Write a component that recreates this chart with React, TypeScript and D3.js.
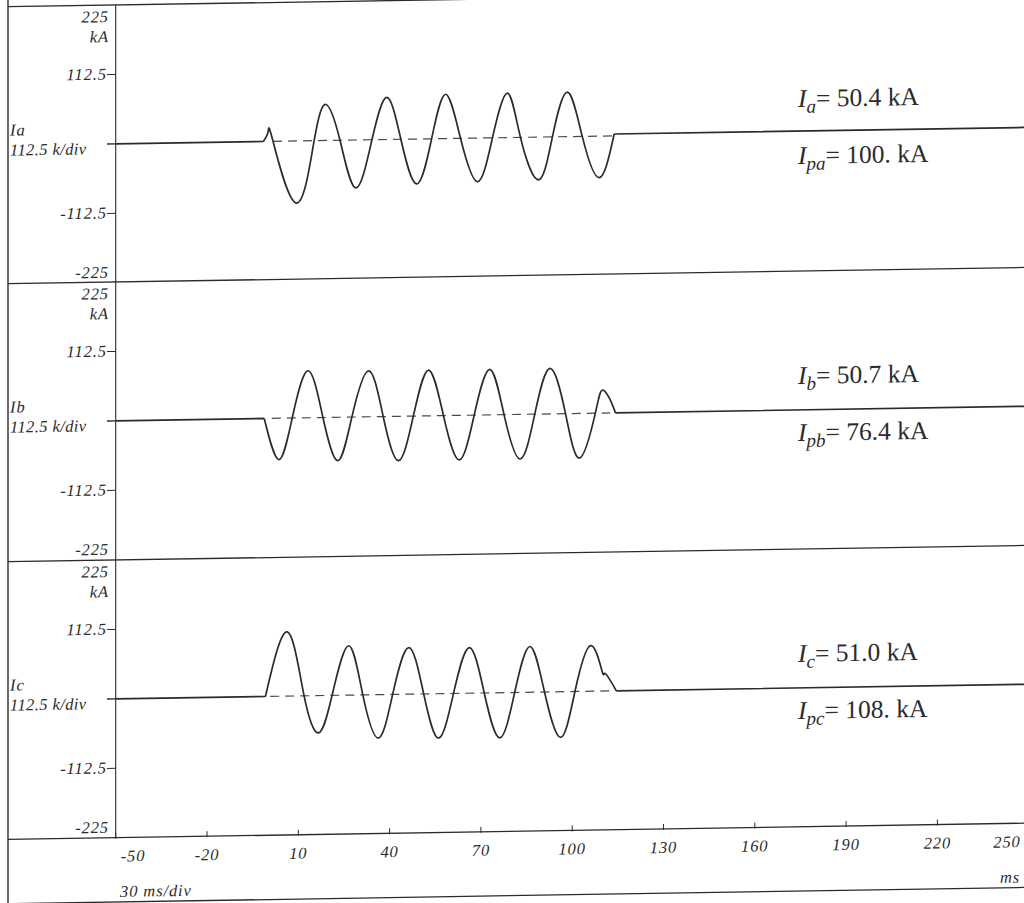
import * as d3 from "d3";

// time axis (ms)
const timeTicks = [-50, -20, 10, 40, 70, 100, 130, 160, 190, 220, 250];
// current axis (kA)
const currentTicks = [112.5, -112.5];
const currentTickLabels = ["112.5", "-112.5"];

const channelNames = ["Ia", "Ib", "Ic"];
const subscripts = ["a", "b", "c"];
const rmsValues = ["50.4", "50.7", "51.0"];
const peakValues = ["100.", "76.4", "108."];

// phase a (ms / kA)
const timeA = [-50, -1.5, 0.1, 1.7, 9.3, 15.2, 19.1, 23.7, 28.9, 34.2, 39.1, 43.7, 48.9, 53.8, 58.4, 63.3, 68.9, 73.8, 78.7, 83.0, 88.9, 93.5, 98.4, 103.3, 108.9, 113.8, 250];
const currentA = [0, 0, 15.8, 0, -100.6, 0, 58.4, 0, -77.7, 0, 68.4, 0, -72.8, 0, 71.8, 0, -70.8, 0, 71.9, 0, -69.2, 0, 72.1, 0, -67.4, 3, 3];

// phase b
const timeB = [-50, -1.2, 3.6, 8.0, 13.2, 18.1, 23.0, 27.6, 33.1, 37.9, 42.9, 47.8, 52.8, 57.7, 62.9, 67.8, 72.9, 77.6, 82.9, 87.7, 92.7, 97.8, 102.5, 107.6, 109.8, 112.3, 114.2, 250];
const currentB = [0, 0, -67, 0, 76.2, 0, -70.3, 0, 74.5, 0, -71.8, 0, 74.2, 0, -72.3, 0, 73.7, 0, -72.3, 0, 73.7, 0, -72.3, 0, 37, 23.3, 0, 0];

// phase c
const timeC = [-50, -0.8, 6.4, 11.9, 16.7, 21.1, 26.5, 31.2, 36.3, 41.0, 46.3, 51.2, 56.1, 61.0, 66.2, 71.1, 76.2, 81.1, 86.1, 90.9, 96.2, 100.9, 106.0, 109.8, 110.9, 114.5, 250];
const currentC = [0, 0, 104, 0, -60.4, 0, 80, 0, -70.5, 0, 75.5, 0, -72.1, 0, 73.9, 0, -73.3, 0, 74.1, 0, -74, 0, 74, 32.4, 28.2, 0, 0];

// dashed zero reference during the fault (ms)
const dashStart = [1.7, 1.3, 0.8];
const dashEnd = [113.8, 112.5, 113.0];

const series = [
  { t: timeA, i: currentA },
  { t: timeB, i: currentB },
  { t: timeC, i: currentC },
];

const W = 1024;
const H = 903;
const AXIS_X = 115.7;
const FRAME_X = 8;
const PANEL_TOP = [5, 282, 560];
const PANEL_H = 277.7;
const SKEW = -0.016; // the scanned page is slightly skewed

const serif = "'Liberation Serif', 'Times New Roman', serif";
const ink = "#2b2b2b";

const App = () => {
  const x = d3.scaleLinear().domain([-50, 250]).range([AXIS_X, AXIS_X + 913]);
  const bottom = PANEL_TOP[2] + PANEL_H;

  return (
    <svg
      width={W}
      height={H}
      viewBox={`0 0 ${W} ${H}`}
      style={{ position: "absolute", left: 0, top: 0, background: "#fff" }}
    >
      <rect width={W} height={H} fill="#fff" />
      <g transform={`matrix(1, ${SKEW}, 0, 1, 0, ${-SKEW * AXIS_X})`}>
        {/* frame */}
        <line x1={FRAME_X} x2={FRAME_X} y1={-20} y2={H + 20} stroke={ink} strokeWidth={1.4} />
        <line x1={AXIS_X} x2={AXIS_X} y1={PANEL_TOP[0]} y2={bottom} stroke={ink} strokeWidth={1.1} />
        {[...PANEL_TOP, bottom].map((y, k) => (
          <line key={k} x1={FRAME_X} x2={W + 40} y1={y} y2={y} stroke={ink} strokeWidth={1.3} />
        ))}
        <line x1={FRAME_X} x2={W + 40} y1={902} y2={902} stroke={ink} strokeWidth={1.3} />

        {series.map((s, k) => {
          const top = PANEL_TOP[k];
          const y = d3.scaleLinear().domain([-225, 225]).range([top + PANEL_H, top]);
          const pts = s.t.map((t, j) => [t, s.i[j]] as [number, number]);
          const flat = d3
            .line<[number, number]>()
            .x((d) => x(d[0]))
            .y((d) => y(d[1]));
          const wave = d3
            .line<[number, number]>()
            .x((d) => x(d[0]))
            .y((d) => y(d[1]))
            .curve(d3.curveNatural);
          // flat before / after the fault, smooth spline through the oscillation
          const d =
            (flat(pts.slice(0, 2)) ?? "") +
            (wave(pts.slice(1, -1)) ?? "") +
            (flat(pts.slice(-2)) ?? "");
          return (
            <g key={k}>
              {/* left scale */}
              <g fontFamily={serif} fontStyle="italic" fontSize={16.5} fill={ink} letterSpacing={0.9}>
                <text x={109} y={top + 17} textAnchor="end">225</text>
                <text x={109} y={top + 37} textAnchor="end">kA</text>
                {currentTicks.map((v, j) => (
                  <g key={j}>
                    <line x1={107} x2={AXIS_X} y1={y(v)} y2={y(v)} stroke={ink} strokeWidth={1} />
                    <text x={107} y={y(v) + 5} textAnchor="end">{currentTickLabels[j]}</text>
                  </g>
                ))}
                <text x={109} y={top + PANEL_H - 5} textAnchor="end">-225</text>
                <text x={10} y={y(0) - 10}>{channelNames[k]}</text>
                <text x={10} y={y(0) + 10} letterSpacing={0.4}>112.5 k/div</text>
              </g>
              <line x1={107} x2={AXIS_X} y1={y(0)} y2={y(0)} stroke={ink} strokeWidth={1.4} />

              {/* zero reference */}
              <line
                x1={x(dashStart[k])}
                x2={x(dashEnd[k])}
                y1={y(0)}
                y2={y(0)}
                stroke="#4a4a4a"
                strokeWidth={1.2}
                strokeDasharray="9 6"
              />

              {/* trace */}
              <path d={d} fill="none" stroke={ink} strokeWidth={1.7} strokeLinejoin="round" />

              {/* readings */}
              <g fontFamily={serif} fontSize={25.5} fill={ink}>
                <text x={798} y={y(0) - 26}>
                  <tspan fontStyle="italic">I</tspan>
                  <tspan fontStyle="italic" fontSize={19} dy={6}>{subscripts[k]}</tspan>
                  <tspan dy={-6}>{`= ${rmsValues[k]} kA`}</tspan>
                </text>
                <text x={798} y={y(0) + 31}>
                  <tspan fontStyle="italic">I</tspan>
                  <tspan fontStyle="italic" fontSize={19} dy={6}>{`p${subscripts[k]}`}</tspan>
                  <tspan dy={-6}>{`= ${peakValues[k]} kA`}</tspan>
                </text>
              </g>
            </g>
          );
        })}

        {/* time axis */}
        <g fontFamily={serif} fontStyle="italic" fontSize={16.5} fill={ink} letterSpacing={0.9}>
          {timeTicks.map((t, j) => {
            const last = j === timeTicks.length - 1;
            return (
              <g key={t}>
                <line x1={x(t)} x2={x(t)} y1={bottom - 5} y2={bottom + 1} stroke={ink} strokeWidth={1} />
                <text
                  x={j === 0 ? x(t) + 5 : last ? x(t) - 8 : x(t)}
                  y={bottom + 24}
                  textAnchor={j === 0 ? "start" : last ? "end" : "middle"}
                >
                  {t}
                </text>
              </g>
            );
          })}
          <text x={120} y={897}>30 ms/div</text>
          <text x={1000} y={897}>ms</text>
        </g>
      </g>
    </svg>
  );
};

export default App;
